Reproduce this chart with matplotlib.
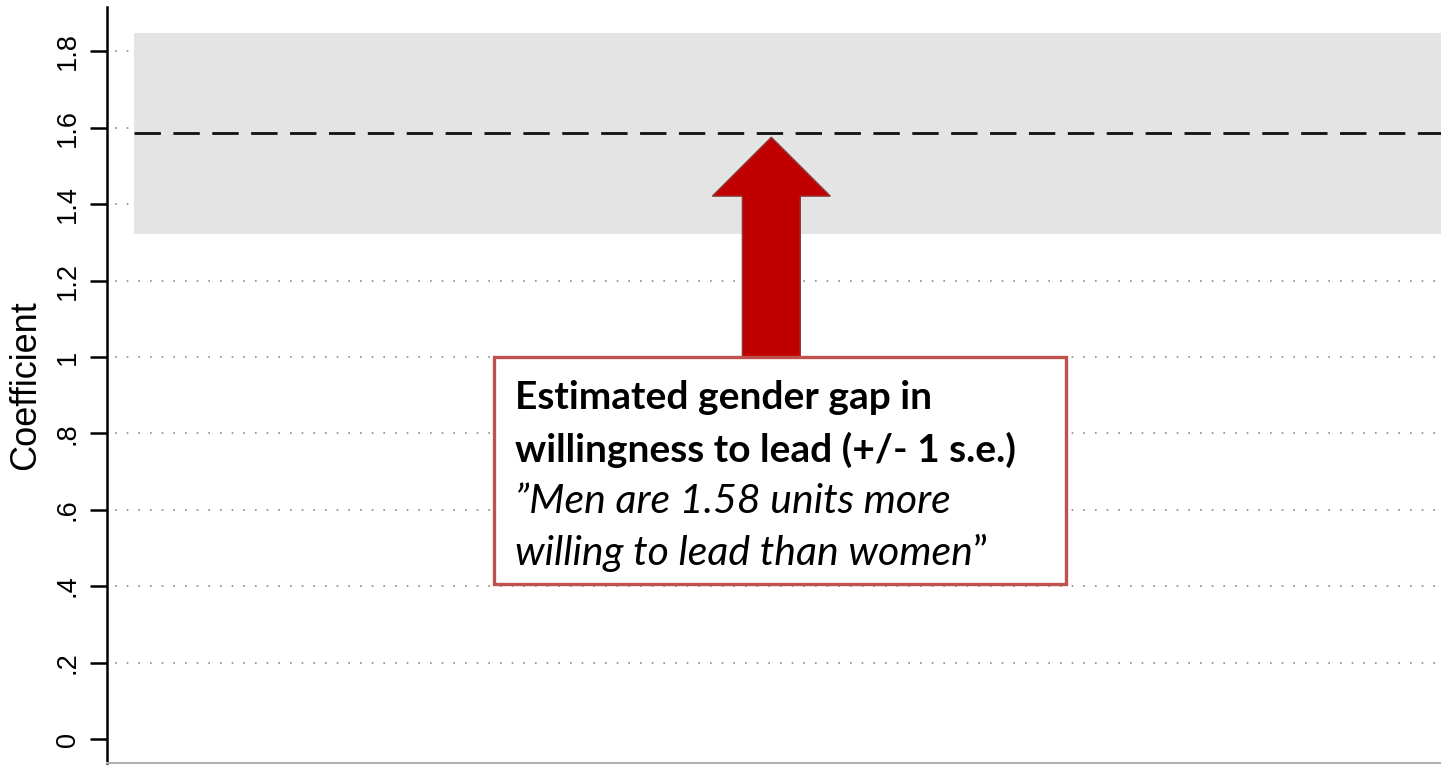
import matplotlib
matplotlib.use("Agg")
import matplotlib.pyplot as plt
from matplotlib.patches import Rectangle, Polygon
import matplotlib.transforms as mtransforms

# ---- data ----
estimate = 1.585          # estimated gender gap
std_err = 0.262           # +/- 1 s.e.
y_ticks = [0, 0.2, 0.4, 0.6, 0.8, 1.0, 1.2, 1.4, 1.6, 1.8]
y_tick_labels = ["0", ".2", ".4", ".6", ".8", "1", "1.2", "1.4", "1.6", "1.8"]
y_label = "Coefficient"
box_title = ["Estimated gender gap in", "willingness to lead (+/- 1 s.e.)"]
box_quote = ["\u201dMen are 1.58 units more", "willing to lead than women"]

W, H = 1441, 765
fig = plt.figure(figsize=(W / 100, H / 100), dpi=100)
ax = fig.add_axes([107 / W, 2 / H, (W - 107) / W, (763 - 7) / H])
ax.set_xlim(0, 1)
ax.set_ylim(-0.0628, 1.916)

# gridlines (dotted)
for yv in y_ticks[1:]:
    ax.plot([0.006, 1.0], [yv, yv], color="#8a8a8a", lw=1.2,
            ls=(0, (1, 6)), zorder=1, solid_capstyle="butt", clip_on=False)

# confidence band and estimate line
x_band = [0.0203, 1.0]
ax.fill_between(x_band, estimate - std_err, estimate + std_err,
                color="#e4e4e4", lw=0, zorder=2)
ax.plot(x_band, [estimate, estimate], color="#111111", lw=2.0,
        ls=(0, (9.5, 4.5)), zorder=3)

# axes styling
for s in ["top", "right"]:
    ax.spines[s].set_visible(False)
ax.spines["left"].set_linewidth(1.8)
ax.spines["left"].set_color("black")
ax.spines["bottom"].set_color("#b0b0b0")
ax.spines["bottom"].set_linewidth(1.5)
ax.set_xticks([])
ax.set_yticks(y_ticks)
ax.set_yticklabels(y_tick_labels, rotation=90, va="center",
                   fontsize=19.5, family="Liberation Sans")
ax.tick_params(axis="y", length=12, width=1.8, pad=7)
ax.set_ylabel(y_label, fontsize=26, family="Liberation Sans", labelpad=8)

# arrow pointing at the estimate
trans = mtransforms.blended_transform_factory(ax.transAxes, ax.transData)
cx, shaft_hw, head_hw = 0.498, 0.0217, 0.0442
head_base, shaft_bottom = 1.421, 1.0
arrow_pts = [(cx - shaft_hw, shaft_bottom), (cx - shaft_hw, head_base),
             (cx - head_hw, head_base), (cx, estimate - 0.01),
             (cx + head_hw, head_base), (cx + shaft_hw, head_base),
             (cx + shaft_hw, shaft_bottom)]
ax.add_patch(Polygon(arrow_pts, closed=True, facecolor="#c00000",
                     edgecolor="#8b3a3a", lw=1.0, transform=trans, zorder=5))

# text box
bx0, bx1, by0, by1 = 0.290, 0.719, 0.406, 1.0
ax.add_patch(Rectangle((bx0, by0), bx1 - bx0, by1 - by0, facecolor="white",
                       edgecolor="#c0504d", lw=2.4, transform=trans, zorder=6))
tx = 0.306
ys = [0.895, 0.757, 0.622, 0.486]
fam = ["Lato", "DejaVu Sans"]
for t, yv in zip(box_title, ys[:2]):
    ax.text(tx, yv, t, transform=trans, fontsize=28, fontweight="bold",
            family=fam, va="center", ha="left", zorder=7)
t3 = ax.text(tx, ys[2], box_quote[0], transform=trans, fontsize=29.5,
             style="italic", family=fam, va="center", ha="left", zorder=7)
t4 = ax.text(tx, ys[3], box_quote[1], transform=trans, fontsize=29.5,
             style="italic", family=fam, va="center", ha="left", zorder=7)
ax.annotate("\u201d", xy=(1, 0.5), xycoords=t4, va="center", ha="left",
            fontsize=29.5, family=fam, zorder=7)

fig.savefig("out.png", dpi=100)
